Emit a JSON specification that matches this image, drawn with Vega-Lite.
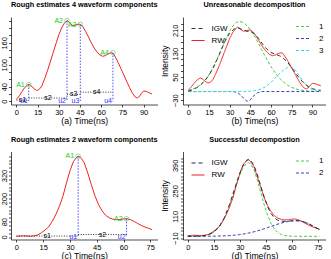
{
"$schema": "https://vega.github.io/schema/vega-lite/v6.json",
"autosize": {"type": "pad"},
"padding": {"left": 0, "top": 0, "right": 0, "bottom": 0},
"background": "white",
"bounds": "flush",
"columns": 2,
"spacing": {"row": 46.5, "column": 25},
"resolve": {"scale": {"color": "independent", "strokeDash": "independent"}, "legend": {"color": "independent", "strokeDash": "independent"}},
"config": {
  "font": "Liberation Sans",
  "view": {"stroke": null},
  "axis": {"grid": false, "domainColor": "#000", "domainWidth": 0.7, "tickColor": "#000", "tickWidth": 0.7, "tickSize": 2.5, "labelFontSize": 7.5, "labelColor": "#000", "labelFont": "Liberation Sans", "labelFlush": false, "labelOverlap": false, "labelBound": false, "titleFontSize": 8.7, "titleFontWeight": "normal", "titleColor": "#000", "titleFont": "Liberation Sans"},
  "axisX": {"labelPadding": 1, "titlePadding": 0.5},
  "axisY": {"labelAngle": -90, "labelAlign": "center", "labelBaseline": "bottom", "labelPadding": 0.5, "titlePadding": 1},
  "title": {"fontSize": 7.3, "fontWeight": "bold", "color": "#000", "font": "Liberation Sans", "offset": 8.5, "anchor": "middle", "frame": "group"},
  "legend": {"title": null, "symbolType": "stroke", "symbolSize": 169, "symbolStrokeWidth": 1.2, "labelFontSize": 8, "labelColor": "#000", "labelFont": "Liberation Sans", "rowPadding": -7, "padding": 0}
},
"datasets": {
  "wave1": [
    {"t":0,"v":5,"s":"RW"},{"t":2,"v":15,"s":"RW"},{"t":4,"v":27,"s":"RW"},{"t":6,"v":38,"s":"RW"},{"t":8,"v":45,"s":"RW"},{"t":9,"v":46,"s":"RW"},{"t":10,"v":44,"s":"RW"},{"t":12,"v":36,"s":"RW"},{"t":14,"v":30,"s":"RW"},{"t":15,"v":30,"s":"RW"},{"t":16,"v":32,"s":"RW"},{"t":18,"v":42,"s":"RW"},{"t":20,"v":62,"s":"RW"},{"t":22,"v":84,"s":"RW"},{"t":24,"v":108,"s":"RW"},{"t":26,"v":133,"s":"RW"},{"t":28,"v":158,"s":"RW"},{"t":30,"v":182,"s":"RW"},{"t":32,"v":201,"s":"RW"},{"t":34,"v":214,"s":"RW"},{"t":35.8,"v":221,"s":"RW"},{"t":37,"v":218,"s":"RW"},{"t":38.5,"v":211,"s":"RW"},{"t":40,"v":207,"s":"RW"},{"t":42,"v":209,"s":"RW"},{"t":44,"v":211,"s":"RW"},{"t":45.5,"v":210,"s":"RW"},{"t":47,"v":204,"s":"RW"},{"t":49,"v":191,"s":"RW"},{"t":51,"v":176,"s":"RW"},{"t":53,"v":160,"s":"RW"},{"t":55,"v":146,"s":"RW"},{"t":57,"v":135,"s":"RW"},{"t":59,"v":127,"s":"RW"},{"t":61,"v":123,"s":"RW"},{"t":63,"v":125,"s":"RW"},{"t":65,"v":130,"s":"RW"},{"t":67,"v":133,"s":"RW"},{"t":68.5,"v":131,"s":"RW"},{"t":70,"v":121,"s":"RW"},{"t":72,"v":106,"s":"RW"},{"t":74,"v":89,"s":"RW"},{"t":76,"v":72,"s":"RW"},{"t":78,"v":55,"s":"RW"},{"t":80,"v":38,"s":"RW"},{"t":82,"v":23,"s":"RW"},{"t":84,"v":12,"s":"RW"},{"t":85.5,"v":9,"s":"RW"},{"t":87,"v":13,"s":"RW"},{"t":88.5,"v":22,"s":"RW"},{"t":90,"v":28,"s":"RW"},{"t":92,"v":27,"s":"RW"},{"t":94,"v":23,"s":"RW"},{"t":96,"v":20,"s":"RW"},
    {"t":0,"v":1,"s":"IGW"},{"t":3,"v":6,"s":"IGW"},{"t":6,"v":13,"s":"IGW"},{"t":9,"v":23,"s":"IGW"},{"t":12,"v":37,"s":"IGW"},{"t":15,"v":56,"s":"IGW"},{"t":18,"v":81,"s":"IGW"},{"t":21,"v":111,"s":"IGW"},{"t":24,"v":144,"s":"IGW"},{"t":27,"v":176,"s":"IGW"},{"t":30,"v":200,"s":"IGW"},{"t":33,"v":214,"s":"IGW"},{"t":36,"v":218,"s":"IGW"},{"t":39,"v":213,"s":"IGW"},{"t":42,"v":207,"s":"IGW"},{"t":45,"v":206,"s":"IGW"},{"t":48,"v":198,"s":"IGW"},{"t":51,"v":182,"s":"IGW"},{"t":54,"v":162,"s":"IGW"},{"t":57,"v":145,"s":"IGW"},{"t":60,"v":134,"s":"IGW"},{"t":63,"v":128,"s":"IGW"},{"t":66,"v":123,"s":"IGW"},{"t":69,"v":114,"s":"IGW"},{"t":72,"v":100,"s":"IGW"},{"t":75,"v":82,"s":"IGW"},{"t":78,"v":62,"s":"IGW"},{"t":81,"v":43,"s":"IGW"},{"t":84,"v":28,"s":"IGW"},{"t":87,"v":17,"s":"IGW"},{"t":90,"v":10,"s":"IGW"},{"t":93,"v":6,"s":"IGW"},{"t":96,"v":4,"s":"IGW"}
  ],
  "comp1": [
    {"t":0,"v":4.2,"c":"1"},{"t":3,"v":7.8,"c":"1"},{"t":6,"v":14,"c":"1"},{"t":9,"v":23.6,"c":"1"},{"t":12,"v":37.8,"c":"1"},{"t":15,"v":57.3,"c":"1"},{"t":18,"v":82.5,"c":"1"},{"t":21,"v":112.6,"c":"1"},{"t":24,"v":145.6,"c":"1"},{"t":27,"v":178.5,"c":"1"},{"t":30,"v":207.6,"c":"1"},{"t":33,"v":228.9,"c":"1"},{"t":35,"v":237.2,"c":"1"},{"t":37,"v":240,"c":"1"},{"t":39,"v":238.1,"c":"1"},{"t":41,"v":232.6,"c":"1"},{"t":43,"v":223.7,"c":"1"},{"t":45,"v":211.8,"c":"1"},{"t":48,"v":189.5,"c":"1"},{"t":51,"v":163.7,"c":"1"},{"t":54,"v":136.5,"c":"1"},{"t":57,"v":109.9,"c":"1"},{"t":60,"v":85.4,"c":"1"},{"t":63,"v":64.1,"c":"1"},{"t":66,"v":46.4,"c":"1"},{"t":69,"v":32.5,"c":"1"},{"t":72,"v":21.9,"c":"1"},{"t":75,"v":14.3,"c":"1"},{"t":78,"v":9,"c":"1"},{"t":81,"v":5.5,"c":"1"},{"t":84,"v":3.2,"c":"1"},{"t":87,"v":1.8,"c":"1"},{"t":90,"v":1,"c":"1"},{"t":93,"v":0.5,"c":"1"},{"t":96,"v":0.3,"c":"1"},
    {"t":0,"v":0,"c":"2"},{"t":32,"v":0,"c":"2"},{"t":34,"v":-1.2,"c":"2"},{"t":36,"v":-4.5,"c":"2"},{"t":38,"v":-11.9,"c":"2"},{"t":40,"v":-22.9,"c":"2"},{"t":42,"v":-31.7,"c":"2"},{"t":43,"v":-33,"c":"2"},{"t":44,"v":-31.7,"c":"2"},{"t":46,"v":-22.9,"c":"2"},{"t":48,"v":-11.9,"c":"2"},{"t":50,"v":-4.5,"c":"2"},{"t":52,"v":-1.2,"c":"2"},{"t":54,"v":0,"c":"2"},{"t":96,"v":0,"c":"2"},
    {"t":0,"v":0,"c":"3"},{"t":40,"v":0.3,"c":"3"},{"t":45,"v":1.3,"c":"3"},{"t":48,"v":2.9,"c":"3"},{"t":51,"v":6,"c":"3"},{"t":54,"v":11.4,"c":"3"},{"t":57,"v":19.8,"c":"3"},{"t":60,"v":31.5,"c":"3"},{"t":63,"v":45.9,"c":"3"},{"t":66,"v":61,"c":"3"},{"t":69,"v":74.1,"c":"3"},{"t":72,"v":82.3,"c":"3"},{"t":74,"v":84,"c":"3"},{"t":76,"v":80.7,"c":"3"},{"t":78,"v":71.3,"c":"3"},{"t":81,"v":50.9,"c":"3"},{"t":84,"v":30.3,"c":"3"},{"t":87,"v":15,"c":"3"},{"t":90,"v":6.2,"c":"3"},{"t":93,"v":2.1,"c":"3"},{"t":96,"v":0.6,"c":"3"}
  ],
  "wave2": [
    {"t":0,"v":4,"s":"RW"},{"t":2,"v":5,"s":"RW"},{"t":4,"v":6,"s":"RW"},{"t":6,"v":5,"s":"RW"},{"t":8,"v":4,"s":"RW"},{"t":10,"v":6,"s":"RW"},{"t":12,"v":11,"s":"RW"},{"t":14,"v":22,"s":"RW"},{"t":16,"v":36,"s":"RW"},{"t":18,"v":52,"s":"RW"},{"t":20,"v":80,"s":"RW"},{"t":22,"v":115,"s":"RW"},{"t":24,"v":158,"s":"RW"},{"t":26,"v":210,"s":"RW"},{"t":28,"v":280,"s":"RW"},{"t":30,"v":345,"s":"RW"},{"t":32,"v":394,"s":"RW"},{"t":34,"v":417,"s":"RW"},{"t":35,"v":420,"s":"RW"},{"t":36,"v":414,"s":"RW"},{"t":38,"v":386,"s":"RW"},{"t":40,"v":332,"s":"RW"},{"t":42,"v":272,"s":"RW"},{"t":44,"v":214,"s":"RW"},{"t":46,"v":169,"s":"RW"},{"t":48,"v":136,"s":"RW"},{"t":50,"v":113,"s":"RW"},{"t":52,"v":100,"s":"RW"},{"t":54,"v":93,"s":"RW"},{"t":56,"v":90,"s":"RW"},{"t":58,"v":91,"s":"RW"},{"t":60,"v":94,"s":"RW"},{"t":62,"v":95,"s":"RW"},{"t":64,"v":90,"s":"RW"},{"t":66,"v":81,"s":"RW"},{"t":68,"v":70,"s":"RW"},{"t":70,"v":60,"s":"RW"},{"t":72,"v":52,"s":"RW"},{"t":74,"v":45,"s":"RW"},{"t":76,"v":39,"s":"RW"},
    {"t":0,"v":0.1,"s":"IGW"},{"t":3,"v":0.2,"s":"IGW"},{"t":6,"v":1,"s":"IGW"},{"t":9,"v":3.2,"s":"IGW"},{"t":12,"v":9.2,"s":"IGW"},{"t":15,"v":23.1,"s":"IGW"},{"t":18,"v":51.4,"s":"IGW"},{"t":21,"v":100.2,"s":"IGW"},{"t":24,"v":172.4,"s":"IGW"},{"t":27,"v":260.9,"s":"IGW"},{"t":30,"v":347.3,"s":"IGW"},{"t":32,"v":391.6,"s":"IGW"},{"t":34,"v":417.7,"s":"IGW"},{"t":35,"v":422.5,"s":"IGW"},{"t":36,"v":420.4,"s":"IGW"},{"t":38,"v":393.3,"s":"IGW"},{"t":40,"v":342.4,"s":"IGW"},{"t":42,"v":279.5,"s":"IGW"},{"t":44,"v":217,"s":"IGW"},{"t":46,"v":164.2,"s":"IGW"},{"t":48,"v":125.5,"s":"IGW"},{"t":50,"v":100.8,"s":"IGW"},{"t":52,"v":87.9,"s":"IGW"},{"t":54,"v":82.8,"s":"IGW"},{"t":56,"v":82.2,"s":"IGW"},{"t":58,"v":83.5,"s":"IGW"},{"t":60,"v":85,"s":"IGW"},{"t":62,"v":86,"s":"IGW"},{"t":64,"v":85.6,"s":"IGW"},{"t":66,"v":82.2,"s":"IGW"},{"t":68,"v":75.9,"s":"IGW"},{"t":70,"v":67.3,"s":"IGW"},{"t":72,"v":57.4,"s":"IGW"},{"t":74,"v":47,"s":"IGW"},{"t":76,"v":36.9,"s":"IGW"}
  ],
  "comp2": [
    {"t":0,"v":0.1,"c":"1"},{"t":3,"v":0.2,"c":"1"},{"t":6,"v":0.9,"c":"1"},{"t":9,"v":3,"c":"1"},{"t":12,"v":8.8,"c":"1"},{"t":15,"v":22.3,"c":"1"},{"t":18,"v":50,"c":"1"},{"t":21,"v":97.8,"c":"1"},{"t":24,"v":168.5,"c":"1"},{"t":27,"v":254.7,"c":"1"},{"t":30,"v":337.9,"c":"1"},{"t":32,"v":379.4,"c":"1"},{"t":34,"v":402.1,"c":"1"},{"t":35,"v":405,"c":"1"},{"t":36,"v":400.8,"c":"1"},{"t":38,"v":369.1,"c":"1"},{"t":40,"v":313,"c":"1"},{"t":42,"v":244.4,"c":"1"},{"t":44,"v":175.7,"c":"1"},{"t":46,"v":116.3,"c":"1"},{"t":48,"v":71,"c":"1"},{"t":50,"v":39.8,"c":"1"},{"t":52,"v":20.6,"c":"1"},{"t":54,"v":9.8,"c":"1"},{"t":56,"v":4.3,"c":"1"},{"t":58,"v":1.7,"c":"1"},{"t":60,"v":0.6,"c":"1"},{"t":62,"v":0.2,"c":"1"},{"t":64,"v":0.1,"c":"1"},{"t":76,"v":0,"c":"1"},
    {"t":0,"v":0,"c":"2"},{"t":3,"v":0,"c":"2"},{"t":6,"v":0.1,"c":"2"},{"t":9,"v":0.2,"c":"2"},{"t":12,"v":0.4,"c":"2"},{"t":15,"v":0.8,"c":"2"},{"t":18,"v":1.4,"c":"2"},{"t":21,"v":2.4,"c":"2"},{"t":24,"v":3.9,"c":"2"},{"t":27,"v":6.2,"c":"2"},{"t":30,"v":9.4,"c":"2"},{"t":33,"v":13.9,"c":"2"},{"t":36,"v":19.6,"c":"2"},{"t":39,"v":26.7,"c":"2"},{"t":42,"v":35.1,"c":"2"},{"t":45,"v":44.6,"c":"2"},{"t":48,"v":54.5,"c":"2"},{"t":51,"v":64.2,"c":"2"},{"t":54,"v":73,"c":"2"},{"t":57,"v":80,"c":"2"},{"t":60,"v":84.4,"c":"2"},{"t":63,"v":86,"c":"2"},{"t":66,"v":82.2,"c":"2"},{"t":69,"v":71.8,"c":"2"},{"t":72,"v":57.4,"c":"2"},{"t":75,"v":41.8,"c":"2"},{"t":76,"v":36.9,"c":"2"}
  ],
  "mkA": [
    {"A":"A1","u":"u1","t":8.7,"v":45.6},{"A":"A2","u":"u2","t":35.8,"v":221},{"A":"A3","u":"u3","t":45.2,"v":210},{"A":"A4","u":"u4","t":68.3,"v":133}
  ],
  "sA": [
    {"s":"s1","t":0,"t2":8.7,"tm":4.35,"v":3},{"s":"s2","t":8.7,"t2":35.8,"tm":22.25,"v":9},{"s":"s3","t":35.8,"t2":45.2,"tm":40.5,"v":19},{"s":"s4","t":45.2,"t2":68.3,"tm":56.75,"v":25}
  ],
  "mkC": [
    {"A":"A1","u":"u1","t":34.6,"v":420},{"A":"A2","u":"u2","t":61.7,"v":95}
  ],
  "sC": [
    {"s":"s1","t":0,"t2":34.6,"tm":17.3,"v":5},{"s":"s2","t":34.6,"t2":61.7,"tm":48.15,"v":13}
  ]
},
"concat": [
  {
    "width": 146.5, "height": 87.5,
    "title": {"text": "Rough estimates 4 waveform components"},
    "encoding": {
      "x": {"field": "t", "type": "quantitative", "scale": {"domain": [-3.84, 99.84], "nice": false, "zero": false}, "axis": {"values": [0,15,30,45,60,75,90], "title": "(a) Time(ns)"}},
      "y": {"field": "v", "type": "quantitative", "scale": {"domain": [-8.8, 230.6], "nice": false, "zero": false}, "axis": {"values": [0,20,40,60,80,100,120,140,160,180,200,220], "labelExpr": "indexof([0,40,100,160], datum.value) >= 0 ? datum.label : ''", "title": null}}
    },
    "layer": [
      {"data": {"name": "wave1"}, "transform": [{"filter": "datum.s === 'RW'"}], "mark": {"type": "line", "color": "#ee2222", "strokeWidth": 1}},
      {"data": {"name": "mkA"}, "mark": {"type": "rule", "color": "#3a3aff", "strokeDash": [1.5, 1.5], "strokeWidth": 0.9}, "encoding": {"y2": {"datum": 0}}},
      {"data": {"name": "sA"}, "mark": {"type": "rule", "color": "#000", "strokeDash": [1, 1.5], "strokeWidth": 0.8}, "encoding": {"x2": {"field": "t2"}}},
      {"data": {"name": "sA"}, "mark": {"type": "text", "color": "#000", "fontSize": 7, "baseline": "middle", "align": "center"}, "encoding": {"x": {"field": "tm", "type": "quantitative"}, "text": {"field": "s"}}},
      {"data": {"name": "mkA"}, "mark": {"type": "point", "shape": "circle", "filled": false, "size": 22, "color": "#44cc44", "strokeWidth": 0.8}},
      {"data": {"name": "mkA"}, "mark": {"type": "text", "color": "#22cc22", "fontSize": 7, "align": "right", "baseline": "middle", "dx": -4}, "encoding": {"text": {"field": "A"}}},
      {"data": {"name": "mkA"}, "mark": {"type": "text", "color": "#3333ff", "fontSize": 7, "align": "right", "baseline": "middle", "dx": -1}, "encoding": {"y": {"datum": 0}, "text": {"field": "u"}}}
    ]
  },
  {
    "width": 143, "height": 87.5,
    "title": {"text": "Unreasonable decomposition"},
    "encoding": {
      "x": {"field": "t", "type": "quantitative", "scale": {"domain": [-3.84, 99.84], "nice": false, "zero": false}, "axis": {"values": [0,15,30,45,60,75,90], "title": "(b) Time(ns)"}},
      "y": {"field": "v", "type": "quantitative", "scale": {"domain": [-44.4, 255.6], "nice": false, "zero": false}, "axis": {"values": [-30,-10,10,30,50,70,90,110,130,150,170,190,210,230], "labelExpr": "indexof([-30,50,130,210], datum.value) >= 0 ? datum.label : ''", "title": "Intensity", "titleFontSize": 8.5, "labelPadding": 1.5, "titlePadding": 1.5}}
    },
    "layer": [
      {"data": {"name": "comp1"}, "mark": {"type": "line", "strokeDash": [3, 2], "strokeWidth": 1}, "encoding": {"color": {"field": "c", "type": "nominal", "scale": {"domain": ["1","2","3"], "range": ["#44cc44", "#3344bb", "#33dddd"]}, "legend": {"orient": "top-right", "offset": 2, "symbolDash": [3, 2], "labelOffset": 9, "encode": {"symbols": {"update": {"stroke": {"signal": "datum.value === '1' ? '#44cc44' : datum.value === '2' ? '#3344bb' : '#33dddd'"}, "strokeDash": {"value": [3, 2]}}}}}}}},
      {"data": {"name": "wave1"}, "mark": {"type": "line", "strokeWidth": 1}, "encoding": {
        "color": {"field": "s", "type": "nominal", "scale": {"domain": ["IGW","RW"], "range": ["#333333", "#ee2222"]}, "legend": {"orient": "top-left", "offset": 3.5, "symbolOffset": 3.5, "labelOffset": 6, "encode": {"symbols": {"update": {"stroke": {"signal": "datum.value === 'IGW' ? '#333333' : '#ee2222'"}, "strokeDash": {"signal": "datum.value === 'IGW' ? [4, 3] : [1, 0]"}}}}}},
        "strokeDash": {"field": "s", "type": "nominal", "scale": {"domain": ["IGW","RW"], "range": [[4, 3], [1, 0]]}, "legend": null}}}
    ],
    "resolve": {"scale": {"color": "independent"}}
  },
  {
    "width": 146.5, "height": 88,
    "title": {"text": "Rough estimates 2 waveform components"},
    "encoding": {
      "x": {"field": "t", "type": "quantitative", "scale": {"domain": [-3.04, 79.04], "nice": false, "zero": false}, "axis": {"values": [0,15,30,45,60,75], "title": "(c) Time(ns)"}},
      "y": {"field": "v", "type": "quantitative", "scale": {"domain": [-13, 445], "nice": false, "zero": false}, "axis": {"values": [0,20,40,60,80,100,120,140,160,180,200,220,240,260,280,300,320,340,360,380,400,420], "labelExpr": "indexof([0,80,200,320], datum.value) >= 0 ? datum.label : ''", "title": null}}
    },
    "layer": [
      {"data": {"name": "wave2"}, "transform": [{"filter": "datum.s === 'RW'"}], "mark": {"type": "line", "color": "#ee2222", "strokeWidth": 1}},
      {"data": {"name": "mkC"}, "mark": {"type": "rule", "color": "#3a3aff", "strokeDash": [1.5, 1.5], "strokeWidth": 0.9}, "encoding": {"y2": {"datum": 0}}},
      {"data": {"name": "sC"}, "mark": {"type": "rule", "color": "#000", "strokeDash": [1, 1.5], "strokeWidth": 0.8}, "encoding": {"x2": {"field": "t2"}}},
      {"data": {"name": "sC"}, "mark": {"type": "text", "color": "#000", "fontSize": 7, "baseline": "middle", "align": "center"}, "encoding": {"x": {"field": "tm", "type": "quantitative"}, "text": {"field": "s"}}},
      {"data": {"name": "mkC"}, "mark": {"type": "point", "shape": "circle", "filled": false, "size": 22, "color": "#44cc44", "strokeWidth": 0.8}},
      {"data": {"name": "mkC"}, "mark": {"type": "text", "color": "#22cc22", "fontSize": 7, "align": "right", "baseline": "middle", "dx": -4}, "encoding": {"text": {"field": "A"}}},
      {"data": {"name": "mkC"}, "mark": {"type": "text", "color": "#3333ff", "fontSize": 7, "align": "right", "baseline": "middle", "dx": -1}, "encoding": {"y": {"datum": 0}, "text": {"field": "u"}}}
    ]
  },
  {
    "width": 143, "height": 88,
    "title": {"text": "Successful decompostion"},
    "encoding": {
      "x": {"field": "t", "type": "quantitative", "scale": {"domain": [-2.77, 79.73], "nice": false, "zero": false}, "axis": {"values": [0,15,30,45,60,75], "title": "(d) Time(ns)"}},
      "y": {"field": "v", "type": "quantitative", "scale": {"domain": [-17.5, 466], "nice": false, "zero": false}, "axis": {"values": [-10,10,30,50,70,90,110,130,150,170,190,210,230,250,270,290,310,330,350,370,390,410,430], "labelExpr": "indexof([-10,110,250,390], datum.value) >= 0 ? datum.label : ''", "title": "Intensity", "titleFontSize": 8.5, "labelPadding": 1.5, "titlePadding": 1.5}}
    },
    "layer": [
      {"data": {"name": "comp2"}, "mark": {"type": "line", "strokeDash": [3, 2], "strokeWidth": 1}, "encoding": {"color": {"field": "c", "type": "nominal", "scale": {"domain": ["1","2"], "range": ["#44cc44", "#3344bb"]}, "legend": {"orient": "top-right", "offset": 2, "symbolDash": [3, 2], "labelOffset": 9, "encode": {"symbols": {"update": {"stroke": {"signal": "datum.value === '1' ? '#44cc44' : '#3344bb'"}, "strokeDash": {"value": [3, 2]}}}}}}}},
      {"data": {"name": "wave2"}, "mark": {"type": "line", "strokeWidth": 1}, "encoding": {
        "color": {"field": "s", "type": "nominal", "scale": {"domain": ["IGW","RW"], "range": ["#2b2b3b", "#ee2222"]}, "legend": {"orient": "top-left", "offset": 3.5, "symbolOffset": 3.5, "labelOffset": 6, "encode": {"symbols": {"update": {"stroke": {"signal": "datum.value === 'IGW' ? '#2b2b3b' : '#ee2222'"}, "strokeDash": {"signal": "datum.value === 'IGW' ? [4, 3] : [1, 0]"}}}}}},
        "strokeDash": {"field": "s", "type": "nominal", "scale": {"domain": ["IGW","RW"], "range": [[4, 3], [1, 0]]}, "legend": null}}}
    ],
    "resolve": {"scale": {"color": "independent"}}
  }
]
}
